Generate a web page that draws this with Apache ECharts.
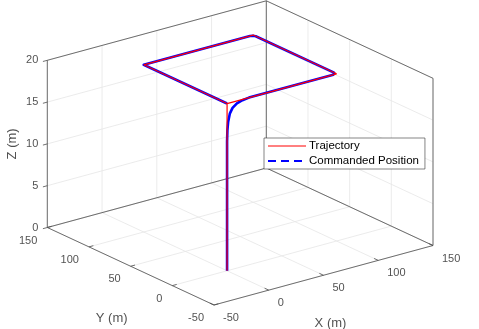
<!DOCTYPE html>
<html>
<head>
<meta charset="utf-8">
<script src="https://cdn.jsdelivr.net/npm/echarts@6/dist/echarts.min.js"></script>
<style>
html, body { margin: 0; padding: 0; background: #fff; }
#chart { width: 479px; height: 329px; }
</style>
</head>
<body>
<div id="chart"></div>
<script>
// axis limits and ticks (metres)
const xLim = [-50, 150];
const yLim = [-50, 150];
const zLim = [0, 20];
const xTicks = [-50, 0, 50, 100, 150];
const yTicks = [-50, 0, 50, 100, 150];
const zTicks = [0, 5, 10, 15, 20];

// red: trajectory
const trajX = [0, 0, 100, 100, 0, 0];
const trajY = [0, 0, 0, 100, 100, 0];
const trajZ = [0, 20, 20, 20, 20, 20];

// blue: commanded position
const cmdX = [0, 0, 0, 0.3, 1, 2.5, 5, 9, 14, 20, 97, 99, 100, 100, 99, 97, 0, 0];
const cmdY = [0, 0, 0, 0, 0, 0, 0, 0, 0, 0, 0, 1, 3, 97, 99, 100, 100, 0];
const cmdZ = [0, 14, 15.5, 16.8, 17.8, 18.7, 19.3, 19.7, 19.9, 20, 20, 20, 20, 20, 20, 20, 20, 20];

const FONT = "'Liberation Sans', Arial, sans-serif";

// fixed MATLAB-like view (az -37.5, el 30), mapped onto the page
function view(x, y, z) {
  const a = x - xLim[0];
  const b = y - yLim[0];
  const c = z - zLim[0];
  return [214 + 1.095 * a - 0.8335 * b, 305 - 0.2975 * a - 0.3875 * b - 8.36 * c];
}

// list of 3d segments -> one broken polyline
function segs(list) {
  const out = [];
  list.forEach((s) => {
    out.push(view(s[0], s[1], s[2]), view(s[3], s[4], s[5]), ["-", "-"]);
  });
  return out;
}

const [x0, x1] = xLim;
const [y0, y1] = yLim;
const [z0, z1] = zLim;

const gridSegs = [];
xTicks.forEach((t) => {
  gridSegs.push([t, y0, z0, t, y1, z0]);
  gridSegs.push([t, y1, z0, t, y1, z1]);
});
yTicks.forEach((t) => {
  gridSegs.push([x0, t, z0, x1, t, z0]);
  gridSegs.push([x1, t, z0, x1, t, z1]);
});
zTicks.forEach((t) => {
  gridSegs.push([x0, y1, t, x1, y1, t]);
  gridSegs.push([x1, y0, t, x1, y1, t]);
});

const boxSegs = [
  [x0, y0, z0, x1, y0, z0],
  [x0, y0, z0, x0, y1, z0],
  [x0, y1, z0, x1, y1, z0],
  [x1, y0, z0, x1, y1, z0],
  [x0, y1, z0, x0, y1, z1],
  [x1, y1, z0, x1, y1, z1],
  [x1, y0, z0, x1, y0, z1],
  [x0, y1, z1, x1, y1, z1],
  [x1, y0, z1, x1, y1, z1],
];
zTicks.forEach((t) => boxSegs.push([x0, y1, t, x0 - 4, y1, t]));
yTicks.forEach((t) => boxSegs.push([x0, t, z0, x0 + 4, t, z0]));
xTicks.forEach((t) => boxSegs.push([t, y0, z0, t, y0 + 5, z0]));

const tickLabels = [];
zTicks.forEach((t) => {
  tickLabels.push({ value: view(x0, y1, t), label: { formatter: String(t), position: "left", distance: 9 } });
});
yTicks.forEach((t) => {
  tickLabels.push({ value: view(x0, t, z0), label: { formatter: String(t), position: "left", distance: 10, offset: [0, 13] } });
});
xTicks.forEach((t) => {
  tickLabels.push({ value: view(t, y0, z0), label: { formatter: String(t), position: "right", distance: 9, offset: [0, 13] } });
});

const titles = [
  { value: view(x0, y1, (z0 + z1) / 2), label: { formatter: "Z (m)", rotate: 90, offset: [0, -35] } },
  { value: view(x0, (y0 + y1) / 2, z0), label: { formatter: "Y (m)", offset: [-19, 52] } },
  { value: view((x0 + x1) / 2, y0, z0), label: { formatter: "X (m)", offset: [7, 48] } },
];

const chart = echarts.init(document.getElementById("chart"));
chart.setOption({
  animation: false,
  grid: { left: 0, right: 0, top: 0, bottom: 0 },
  xAxis: { type: "value", min: 0, max: 479, show: false },
  yAxis: { type: "value", min: 0, max: 329, inverse: true, show: false },
  legend: {
    orient: "vertical",
    left: 264,
    top: 138,
    padding: [2, 6, 2, 3],
    itemGap: 3,
    itemWidth: 38,
    itemHeight: 13,
    backgroundColor: "#fff",
    borderColor: "#333",
    borderWidth: 0.6,
    borderRadius: 0,
    itemStyle: { opacity: 0, color: "transparent", borderWidth: 0 },
    textStyle: { fontFamily: FONT, fontSize: 11.5, color: "#000", padding: [0, 0, 0, -2] },
    data: [
      { name: "Trajectory", lineStyle: { width: 1 } },
      { name: "Commanded Position", lineStyle: { type: [8, 5] } },
    ],
  },
  series: [
    {
      name: "grid",
      type: "line",
      silent: true,
      symbol: "none",
      data: segs(gridSegs),
      lineStyle: { color: "#e6e6e6", width: 0.8 },
    },
    {
      name: "box",
      type: "line",
      silent: true,
      symbol: "none",
      data: segs(boxSegs),
      lineStyle: { color: "#4d4d4d", width: 0.8 },
    },
    {
      name: "Commanded Position",
      type: "line",
      symbol: "none",
      data: cmdX.map((x, i) => view(x, cmdY[i], cmdZ[i])),
      color: "#0000ff",
      lineStyle: { color: "#0000ff", width: 2.6, join: "round" },
    },
    {
      name: "Trajectory",
      type: "line",
      symbol: "none",
      data: trajX.map((x, i) => view(x, trajY[i], trajZ[i])),
      color: "#ff0000",
      lineStyle: { color: "#ff0000", width: 1.2 },
    },
    {
      name: "ticks",
      type: "scatter",
      silent: true,
      symbolSize: 0,
      data: tickLabels,
      label: { show: true, fontFamily: FONT, fontSize: 11, color: "#262626" },
    },
    {
      name: "titles",
      type: "scatter",
      silent: true,
      symbolSize: 0,
      data: titles,
      label: { show: true, position: "inside", fontFamily: FONT, fontSize: 13, color: "#262626" },
    },
  ],
});
</script>
</body>
</html>
